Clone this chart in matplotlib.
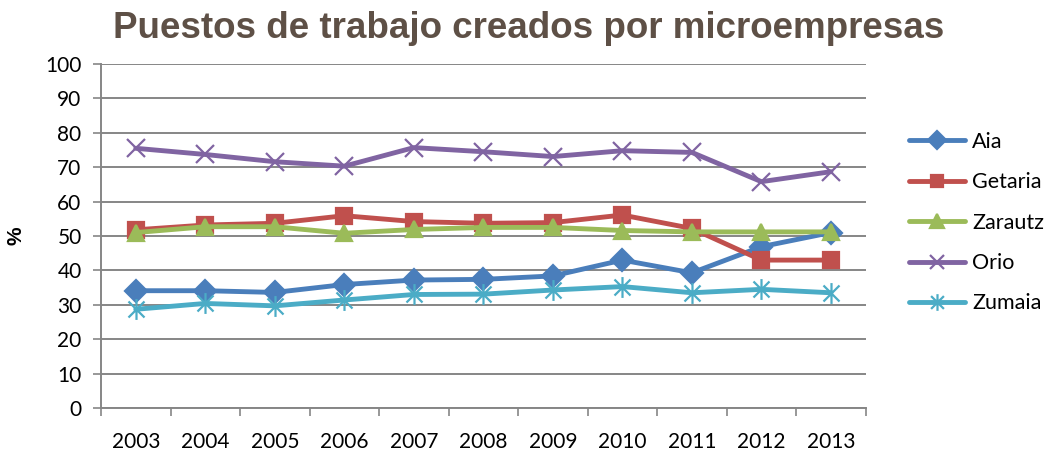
import matplotlib.pyplot as plt
from matplotlib.path import Path

years = ['2003', '2004', '2005', '2006', '2007', '2008', '2009', '2010', '2011', '2012', '2013']
aia = [34.1, 34.1, 33.6, 35.9, 37.2, 37.4, 38.4, 43.0, 39.3, 46.9, 51.0]
getaria = [51.8, 53.2, 53.7, 55.9, 54.2, 53.7, 53.9, 56.1, 52.2, 43.0, 43.0]
zarautz = [51.0, 52.7, 52.7, 50.8, 51.9, 52.5, 52.5, 51.6, 51.2, 51.2, 51.2]
orio = [75.5, 73.7, 71.6, 70.3, 75.7, 74.5, 73.1, 74.8, 74.3, 65.8, 68.7]
zumaia = [28.7, 30.4, 29.7, 31.4, 33.0, 33.1, 34.3, 35.3, 33.5, 34.5, 33.5]

# marcador "estrella" tipo Excel: x con línea vertical
estrella = Path([(-1, -1), (1, 1), (-1, 1), (1, -1), (0, -1.3), (0, 1.3)],
                [Path.MOVETO, Path.LINETO, Path.MOVETO, Path.LINETO, Path.MOVETO, Path.LINETO])

series = [
    ('Aia', aia, '#4A7EBB', 'D', 11),
    ('Getaria', getaria, '#C0504D', 's', 11),
    ('Zarautz', zarautz, '#9BBB59', '^', 12),
    ('Orio', orio, '#8064A2', 'x', 13),
    ('Zumaia', zumaia, '#4BACC6', estrella, 15),
]

fig = plt.figure(figsize=(10.48, 4.53), dpi=100)
ax = fig.add_axes([0.0964, 0.0993, 0.7296, 0.7594])

x = list(range(len(years)))
for nombre, vals, color, marker, ms in series:
    ax.plot(x, vals, color=color, lw=3.5, marker=marker, ms=ms,
            mec=color, mfc=color, mew=1.6, label=nombre,
            solid_joinstyle='round', solid_capstyle='round')

ax.set_ylim(0, 100)
ax.set_xlim(-0.5, len(years) - 0.5)
ax.set_yticks(range(0, 101, 10))
ax.set_xticks(x)
ax.set_xticklabels(years)
ax.set_xticks([i - 0.5 for i in range(len(years) + 1)], minor=True)
ax.tick_params(axis='x', which='major', length=0, pad=17)
ax.tick_params(axis='x', which='minor', length=6, color='#868686', width=1.2)
ax.tick_params(axis='y', length=6, color='#868686', width=1.2, pad=8)
for lab in ax.get_xticklabels() + ax.get_yticklabels():
    lab.set_fontfamily('Lato')
    lab.set_fontsize(15)

ax.grid(axis='y', color='#868686', lw=1.4)
ax.set_axisbelow(True)
for s in ['top', 'right']:
    ax.spines[s].set_visible(False)
for s in ['left', 'bottom']:
    ax.spines[s].set_color('#868686')
    ax.spines[s].set_linewidth(1.4)

ax.set_ylabel('%', fontsize=15, fontweight='bold', fontfamily='Liberation Sans', labelpad=14)

fig.text(0.504, 0.938, 'Puestos de trabajo creados por microempresas', ha='center', va='center',
         fontsize=26.5, fontweight='bold', color='#5E5046', fontfamily='Liberation Sans')

leg = ax.legend(loc='center left', bbox_to_anchor=(1.032, 0.539), frameon=False,
                prop={'family': 'Lato', 'size': 15.5}, handlelength=2.6, markerscale=0.8,
                labelspacing=0.95, handletextpad=0.3)

plt.savefig('out.png', dpi=100)
